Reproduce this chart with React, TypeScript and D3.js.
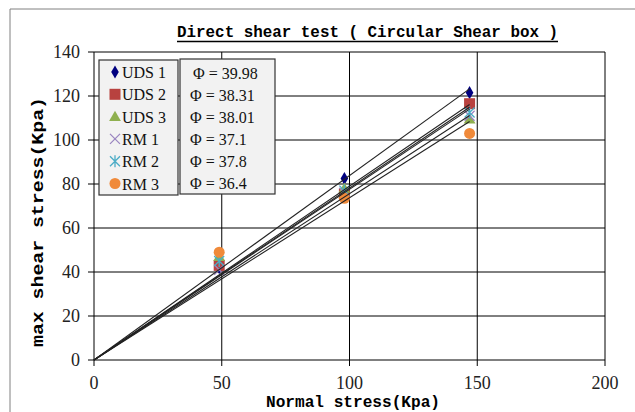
import * as d3 from "d3";

// normal stress applied (kPa)
const normalStress = [49, 98, 147];

// series names and measured max shear stress (kPa)
const seriesNames = ["UDS 1", "UDS 2", "UDS 3", "RM 1", "RM 2", "RM 3"];
const uds1 = [42, 82.5, 121.5];
const uds2 = [43, 75.5, 116.5];
const uds3 = [47, 78, 109.5];
const rm1 = [41, 76, 111];
const rm2 = [45, 77, 112.5];
const rm3 = [49, 73.5, 103];

// friction angle of each fitted line (degrees)
const frictionAngles = ["39.98", "38.31", "38.01", "37.1", "37.8", "36.4"];

const xTicks = [0, 50, 100, 150, 200];
const yTicks = [0, 20, 40, 60, 80, 100, 120, 140];

const colors = ["#000080", "#b8423f", "#8fb04f", "#9a85c0", "#4bacc6", "#f08a3a"];
const markers = ["diamond", "square", "triangle", "x", "star", "circle"];

const W = 635;
const H = 412;
const m = { left: 94, right: 605, top: 52, bottom: 360 };

const x = d3.scaleLinear().domain([0, 200]).range([m.left, m.right]);
const y = d3.scaleLinear().domain([0, 140]).range([m.bottom, m.top]);

const allSeries = [uds1, uds2, uds3, rm1, rm2, rm3];

function Marker({ kind, cx, cy, color }: { kind: string; cx: number; cy: number; color: string }) {
  if (kind === "diamond") {
    const p = d3.symbol(d3.symbolDiamond, 50)();
    return <path d={p!} transform={`translate(${cx},${cy})`} fill={color} />;
  }
  if (kind === "square") {
    return <rect x={cx - 5.5} y={cy - 5.5} width={11} height={11} fill={color} />;
  }
  if (kind === "triangle") {
    const p = d3.symbol(d3.symbolTriangle, 60)();
    return <path d={p!} transform={`translate(${cx},${cy + 1})`} fill={color} />;
  }
  if (kind === "circle") {
    return <circle cx={cx} cy={cy} r={5.5} fill={color} />;
  }
  if (kind === "x") {
    const r = 5;
    return (
      <path d={`M${cx - r},${cy - r}L${cx + r},${cy + r}M${cx - r},${cy + r}L${cx + r},${cy - r}`}
        stroke={color} strokeWidth={1.3} fill="none" />
    );
  }
  // asterisk
  const r = 5;
  return (
    <path d={`M${cx - r},${cy - r}L${cx + r},${cy + r}M${cx - r},${cy + r}L${cx + r},${cy - r}M${cx},${cy - r - 1}L${cx},${cy + r + 1}`}
      stroke={color} strokeWidth={1.3} fill="none" />
  );
}

export default function App() {
  const fit = d3.line<[number, number]>().x(d => x(d[0])).y(d => y(d[1]));
  const xMax = d3.max(normalStress)!;

  return (
    <svg width={W} height={H} style={{ position: "absolute", left: 0, top: 0, background: "#fff" }}
      fontFamily="'Liberation Serif', serif">
      {/* outer frame */}
      <path d={`M10,${H}V9H${W}`} fill="none" stroke="#808080" strokeWidth={1} />

      {/* title */}
      <text x={177} y={37} fontFamily="'Liberation Mono', monospace" fontWeight="bold" fontSize={16}
        textLength={381} lengthAdjust="spacingAndGlyphs">Direct shear test ( Circular Shear box )</text>
      <line x1={177} x2={558} y1={41.5} y2={41.5} stroke="#000" strokeWidth={1.5} />

      {/* grid */}
      {yTicks.map(t => (
        <line key={"gy" + t} x1={m.left - 6} x2={m.right} y1={y(t)} y2={y(t)} stroke="#000" strokeWidth={1} />
      ))}
      {xTicks.map(t => (
        <line key={"gx" + t} x1={x(t)} x2={x(t)} y1={m.top} y2={m.bottom + 6} stroke="#000" strokeWidth={1} />
      ))}

      {/* tick labels */}
      {yTicks.map(t => (
        <text key={"ly" + t} x={80} y={y(t) + 6} textAnchor="end" fontSize={18} fill="#222">{t}</text>
      ))}
      {xTicks.map(t => (
        <text key={"lx" + t} x={x(t)} y={389} textAnchor="middle" fontSize={18} fill="#222">{t}</text>
      ))}

      {/* axis titles */}
      <text x={266} y={407} fontFamily="'Liberation Mono', monospace" fontWeight="bold" fontSize={16}
        textLength={174} lengthAdjust="spacingAndGlyphs">Normal stress(Kpa)</text>
      <text transform="translate(43,347) rotate(-90)" fontFamily="'Liberation Mono', monospace" fontWeight="bold"
        fontSize={17} textLength={250} lengthAdjust="spacingAndGlyphs">max shear stress(Kpa)</text>

      {/* markers */}
      {allSeries.map((vals, i) =>
        vals.map((v, j) => (
          <Marker key={i + "-" + j} kind={markers[i]} cx={x(normalStress[j])} cy={y(v)} color={colors[i]} />
        ))
      )}

      {/* trend lines through origin, slope = tan(phi) */}
      {frictionAngles.map((a, i) => {
        const k = Math.tan((+a * Math.PI) / 180);
        return (
          <path key={"fit" + i} d={fit([[0, 0], [xMax, k * xMax]])!} stroke="#222" strokeWidth={1.1} fill="none" />
        );
      })}

      {/* legend: series */}
      <rect x={99} y={60} width={79} height={135} fill="#f2f2f2" stroke="#333" strokeWidth={1.2} />
      {seriesNames.map((n, i) => {
        const cy = 72 + i * 22.3;
        return (
          <g key={"lg" + n}>
            <Marker kind={markers[i]} cx={115} cy={cy} color={colors[i]} />
            <text x={122} y={cy + 6} fontSize={16} fill="#111">{n}</text>
          </g>
        );
      })}

      {/* legend: friction angles */}
      <rect x={180} y={59} width={95} height={135} fill="#f2f2f2" stroke="#333" strokeWidth={1.2} />
      {frictionAngles.map((a, i) => (
        <text key={"phi" + i} x={i === 0 ? 193 : 190} y={79 + i * 22} fontSize={16} fill="#111">
          {"Φ = " + a}
        </text>
      ))}
    </svg>
  );
}
